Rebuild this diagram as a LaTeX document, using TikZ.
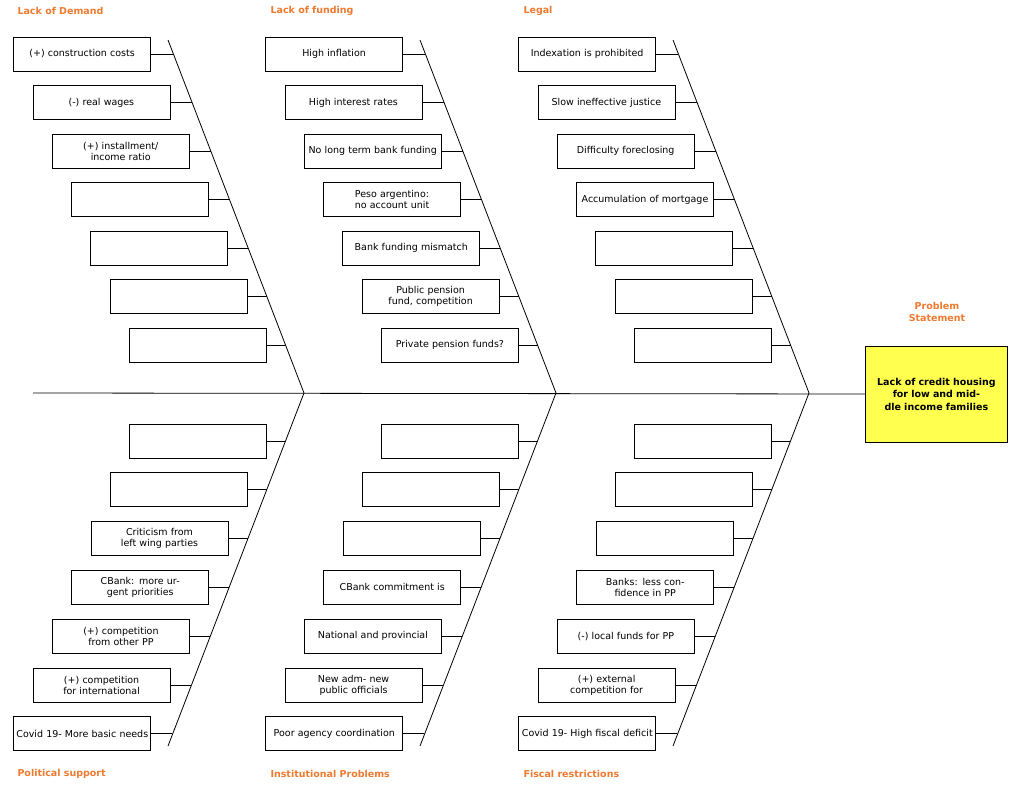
\documentclass[tikz,border=0pt]{standalone}
\usepackage{fontspec}
\setmainfont{DejaVu Sans}
\definecolor{org}{RGB}{238,122,48}
\definecolor{yel}{RGB}{255,255,80}
\begin{document}
\begin{tikzpicture}[x=1pt,y=-1pt,
 box/.style={draw,thick,minimum width=137pt,minimum height=34pt,text width=132pt,align=center,inner sep=1pt,font=\fontsize{9.5}{11}\selectfont},
 cat/.style={anchor=west,text=org,font=\bfseries\fontsize{9.5}{11}\selectfont},
 line/.style={thick}]
\useasboundingbox (0,0) rectangle (1024,789);
\newcommand\topbox[4]{%
 \pgfmathsetmacro\yy{54+48.5*#3}%
 \pgfmathsetmacro\rx{151+19.3*#3+#2}%
 \pgfmathsetmacro\bx{168+(\yy-40)*0.3853+#2}%
 \node[box,anchor=east] (#1) at (\rx,\yy) {#4};
 \coordinate (#1b) at (\bx,\yy);
 \draw[line] (#1.east) -- (#1b);}
\newcommand\botbox[4]{%
 \pgfmathsetmacro\yy{441+48.8*#3}%
 \pgfmathsetmacro\rx{267-19.3*#3+#2}%
 \pgfmathsetmacro\bx{304-(\yy-393)*0.3864+#2}%
 \node[box,anchor=east] (#1) at (\rx,\yy) {#4};
 \coordinate (#1b) at (\bx,\yy);
 \draw[line] (#1.east) -- (#1b);}
% spine and bones
\coordinate (s0) at (33,393);
\node[draw,thick,fill=yel,minimum width=142pt,minimum height=96pt,text width=125pt,align=center,font=\bfseries\fontsize{9.5}{12.5}\selectfont,anchor=west] (head) at (865,394) {Lack of credit housing for low and middle income families};
\draw[line] (s0) -- (head.west);
\foreach \o/\n in {0/a,252/b,505/c}{
 \coordinate (t\n) at (168+\o,40);
 \coordinate (j\n) at (304+\o,393);
 \coordinate (u\n) at (168+\o,746);
 \draw[line] (t\n) -- (j\n) -- (u\n);
}
\node[text=org,font=\bfseries\fontsize{9.5}{11.5}\selectfont,align=center] (ps) at (937,312) {Problem\\Statement};
\node[cat] (c1) at (14,11) {Lack of Demand};
\node[cat] (c2) at (267,11) {Lack of funding};
\node[cat] (c3) at (520,11) {Legal};
\node[cat] (c4) at (14,774) {Political support};
\node[cat] (c5) at (267,774) {Institutional Problems};
\node[cat] (c6) at (520,774) {Fiscal restrictions};
% top col 1
\topbox{a0}{0}{0}{(+) construction costs}
\topbox{a1}{0}{1}{(-) real wages}
\topbox{a2}{0}{2}{(+) installment/ income ratio}
\topbox{a3}{0}{3}{}
\topbox{a4}{0}{4}{}
\topbox{a5}{0}{5}{}
\topbox{a6}{0}{6}{}
% top col 2
\topbox{b0}{252}{0}{High inflation}
\topbox{b1}{252}{1}{High interest rates}
\topbox{b2}{252}{2}{No long term bank funding}
\topbox{b3}{252}{3}{Peso argentino: no account unit}
\topbox{b4}{252}{4}{Bank funding mismatch}
\topbox{b5}{252}{5}{Public pension fund, competition}
\topbox{b6}{252}{6}{Private pension funds?}
% top col 3
\topbox{c0}{505}{0}{Indexation is prohibited}
\topbox{cc1}{505}{1}{Slow ineffective justice}
\topbox{cc2}{505}{2}{Difficulty foreclosing}
\topbox{cc3}{505}{3}{Accumulation of mortgage}
\topbox{cc4}{505}{4}{}
\topbox{cc5}{505}{5}{}
\topbox{cc6}{505}{6}{}
% bottom col 1
\botbox{d0}{0}{0}{}
\botbox{d1}{0}{1}{}
\botbox{d2}{0}{2}{Criticism from left wing parties}
\botbox{d3}{0}{3}{CBank: more urgent priorities}
\botbox{d4}{0}{4}{(+) competition from other PP}
\botbox{d5}{0}{5}{(+) competition for international}
\botbox{d6}{0}{6}{Covid 19- More basic needs}
% bottom col 2
\botbox{e0}{252}{0}{}
\botbox{e1}{252}{1}{}
\botbox{e2}{252}{2}{}
\botbox{e3}{252}{3}{CBank commitment is}
\botbox{e4}{252}{4}{National and provincial}
\botbox{e5}{252}{5}{New adm- new public officials}
\botbox{e6}{252}{6}{Poor agency coordination}
% bottom col 3
\botbox{f0}{505}{0}{}
\botbox{f1}{505}{1}{}
\botbox{f2}{505}{2}{}
\botbox{f3}{505}{3}{Banks: less confidence in PP}
\botbox{f4}{505}{4}{(-) local funds for PP}
\botbox{f5}{505}{5}{(+) external competition for}
\botbox{f6}{505}{6}{Covid 19- High fiscal deficit}
\end{tikzpicture}
\end{document}
